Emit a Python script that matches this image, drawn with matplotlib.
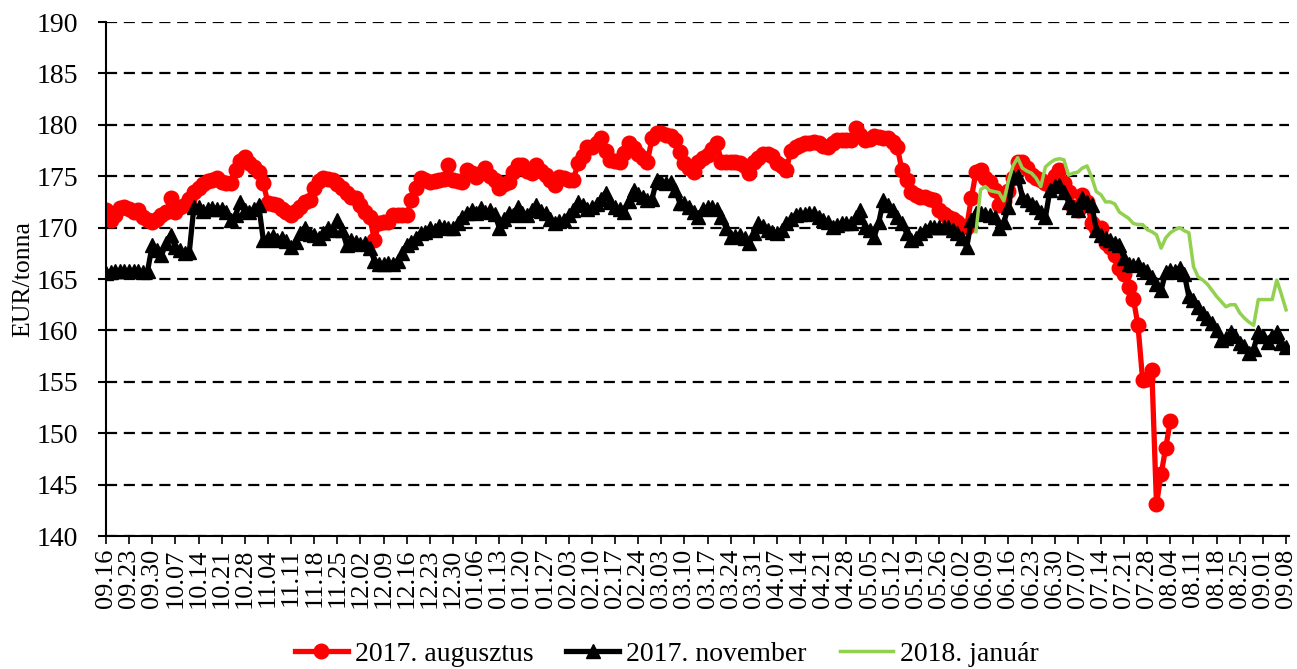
import matplotlib
matplotlib.use('Agg')
import matplotlib.pyplot as plt
import numpy as np
import pandas as pd

# trading days 2016.09.16 - 2017.09.08
dates = pd.bdate_range('2016-09-16', '2017-09-08')
tick_pos = list(range(0, len(dates), 5))
tick_labels = [d.strftime('%m.%d') for d in dates[::5]]

aug_2017 = [
    171.7, 170.7, 171.2, 171.9, 172.0, 171.8, 171.5, 171.7, 171.0, 170.7,
    170.5, 170.8, 171.2, 171.5, 172.9, 171.5, 172.0, 172.2, 172.8, 173.5,
    173.9, 174.2, 174.5, 174.6, 174.8, 174.4, 174.3, 174.3, 175.6, 176.5,
    176.9, 176.3, 175.9, 175.4, 174.3, 172.4, 172.3, 172.2, 171.8, 171.5,
    171.2, 171.6, 172.0, 172.5, 172.7, 173.9, 174.5, 174.8, 174.7, 174.6,
    174.2, 173.9, 173.4, 173.0, 172.9, 172.2, 171.5, 171.0, 168.8, 170.4,
    170.5, 170.5, 171.2, 171.2, 171.2, 171.2, 172.7, 173.9, 174.8, 174.6,
    174.4, 174.5, 174.6, 174.7, 176.1, 174.6, 174.5, 174.4, 175.6, 175.3,
    174.9, 175.3, 175.8, 175.0, 174.6, 173.9, 174.2, 174.4, 175.4, 176.1,
    176.1, 175.5, 175.3, 176.1, 175.5, 175.1, 174.6, 174.1, 174.9, 174.8,
    174.6, 174.6, 176.3, 177.0, 177.8, 177.8, 178.2, 178.7, 177.5, 176.6,
    176.5, 176.4, 177.3, 178.2, 177.7, 177.2, 176.8, 176.4, 178.7, 179.2,
    179.2, 179.0, 178.9, 178.5, 177.4, 176.3, 175.8, 175.4, 176.4, 176.8,
    177.1, 177.6, 178.2, 176.4, 176.4, 176.4, 176.4, 176.3, 176.0, 175.3,
    176.4, 176.8, 177.2, 177.2, 177.0, 176.3, 176.0, 175.6, 177.5, 177.8,
    178.0, 178.2, 178.2, 178.3, 178.2, 177.9, 177.8, 178.2, 178.5, 178.5,
    178.5, 178.5, 179.7, 179.0, 178.5, 178.6, 178.9, 178.8, 178.7, 178.7,
    178.3, 177.8, 175.6, 174.6, 173.5, 173.2, 173.0, 173.0, 172.8, 172.7,
    171.7, 171.3, 171.0, 170.8, 170.5, 170.2, 170.1, 172.9, 175.4, 175.6,
    174.8, 174.4, 173.7, 172.2, 172.6, 173.6, 174.8, 176.4, 176.4, 175.8,
    175.1, 174.8, 174.6, 174.3, 174.1, 175.0, 175.6, 174.3, 173.5, 172.0,
    171.7, 173.2, 172.5, 170.4, 170.0, 170.0, 168.5, 168.1, 167.3, 166.1,
    165.5, 164.2, 163.1, 160.5, 155.2, 155.3, 156.1, 143.1, 146.0, 148.6,
    151.2,
]

nov_2017 = [
    165.6, 165.7, 165.8, 165.8, 165.8, 165.8, 165.8, 165.8, 165.7, 165.8,
    168.3, 167.8, 167.3, 168.5, 169.3, 168.1, 167.8, 167.5, 167.6, 172.0,
    172.0, 171.6, 171.8, 171.9, 171.8, 171.8, 171.5, 170.7, 171.2, 172.5,
    171.7, 171.5, 171.8, 172.2, 168.8, 169.0, 169.2, 168.8, 169.0, 168.7,
    168.1, 168.6, 169.5, 170.0, 169.4, 169.3, 169.0, 169.5, 170.0, 169.8,
    170.7, 169.8, 168.3, 168.8, 168.6, 168.4, 168.5, 168.0, 166.8, 166.5,
    166.5, 166.6, 166.5, 166.8, 167.5, 168.3, 168.6, 169.0, 169.5, 169.6,
    170.0, 169.8, 170.2, 170.1, 170.0, 170.0, 170.4, 171.0, 171.4, 171.7,
    171.4, 171.9, 171.5, 171.7, 171.3, 170.0, 170.8, 171.4, 171.2, 172.0,
    171.4, 171.2, 171.7, 172.2, 171.6, 171.4, 170.8, 170.4, 170.6, 170.7,
    171.2, 171.7, 172.5, 172.2, 171.8, 172.0, 172.3, 172.8, 173.4, 172.5,
    172.0, 171.8, 171.5, 172.6, 173.7, 173.3, 173.0, 172.7, 172.8, 174.6,
    174.4, 174.3, 174.4, 173.7, 172.4, 172.4, 172.0, 171.5, 171.0, 171.8,
    172.0, 172.0, 171.8, 171.0, 170.0, 169.1, 169.2, 169.3, 169.0, 168.5,
    169.5, 170.4, 170.2, 169.8, 169.6, 169.5, 169.8, 170.4, 170.8, 171.2,
    171.3, 171.3, 171.4, 171.4, 171.0, 170.7, 170.5, 170.1, 170.3, 170.4,
    170.4, 170.4, 171.0, 171.7, 170.1, 169.8, 169.1, 170.5, 172.7, 172.2,
    171.7, 171.0, 170.4, 169.5, 168.8, 169.0, 169.5, 169.8, 170.1, 170.1,
    170.1, 170.1, 170.1, 169.8, 169.5, 169.0, 168.1, 170.7, 171.4, 171.4,
    171.3, 171.2, 171.0, 170.0, 170.5, 172.0, 174.9, 175.0, 173.0, 172.7,
    172.3, 172.0, 171.5, 171.0, 173.7, 174.0, 174.1, 173.5, 172.5, 172.0,
    171.7, 172.9, 172.5, 172.2, 169.8, 169.3, 169.0, 168.8, 168.5, 168.3,
    167.0, 166.5, 166.4, 166.5, 166.0, 165.8, 165.2, 164.5, 163.9, 165.7,
    165.9, 165.8, 166.1, 165.5, 163.3, 163.0, 162.3, 161.7, 161.2, 160.7,
    160.0, 159.1, 159.3, 159.8, 159.5, 158.8, 158.5, 157.8, 158.2, 159.8,
    159.5, 158.9, 159.5, 159.8, 158.8, 158.4,
]

jan_2018_start = 188
jan_2018 = [
    169.6, 173.7,
    174.0, 173.6, 173.5, 173.4, 172.6, 174.5, 176.0, 176.8, 175.8, 175.5,
    175.3, 174.8, 174.0, 175.9, 176.3, 176.6, 176.7, 176.6, 175.1, 175.3,
    175.4, 175.8, 176.0, 174.9, 173.5, 173.2, 172.5, 172.5, 172.3, 171.5,
    171.2, 170.9, 170.4, 170.3, 170.3, 169.8, 169.6, 169.3, 168.0, 169.0,
    169.5, 169.8, 170.0, 169.7, 169.5, 166.2, 165.2, 164.9, 164.5, 163.9,
    163.3, 162.8, 162.3, 162.5, 162.5, 161.7, 161.2, 160.8, 160.5, 163.0,
    163.0, 163.0, 163.0, 164.9, 163.5, 162.0,
]

plt.rcParams['font.family'] = ['Liberation Serif', 'DejaVu Serif']

fig = plt.figure(figsize=(12.97, 6.69), dpi=100)
ax = fig.add_axes([0.0817, 0.1988, 0.9120, 0.7683])

x_aug = np.arange(len(aug_2017))
x_nov = np.arange(len(nov_2017))
x_jan = np.arange(jan_2018_start, jan_2018_start + len(jan_2018))

ax.plot(x_aug, aug_2017, color='#FF0000', lw=3.8, marker='o', ms=10.5,
        label='2017. augusztus')
ax.plot(x_nov, nov_2017, color='black', lw=3.8, marker='^', ms=10,
        label='2017. november')
ax.plot(x_jan, jan_2018, color='#92D050', lw=2.5, label='2018. január')

ax.set_ylim(140, 190)
ax.set_yticks(np.arange(140, 191, 5))
ax.set_xlim(0, 255.6)
ax.set_xticks(tick_pos)
ax.set_xticklabels(tick_labels, rotation=90)

ax.yaxis.grid(True, color='black', linestyle=(0, (5, 3)), lw=1.6)
ax.set_axisbelow(True)
for s in ['top', 'right']:
    ax.spines[s].set_visible(False)
ax.spines['left'].set_linewidth(1.5)
ax.spines['bottom'].set_linewidth(1.5)
ax.tick_params(axis='y', labelsize=20, length=6, width=1.5, pad=14)
ax.tick_params(axis='x', labelsize=19, length=6, width=1.2, pad=3)
ax.set_ylabel('EUR/tonna', fontsize=18.5, labelpad=2)

fig.legend(loc='center', bbox_to_anchor=(0.514, 0.022), ncol=3, frameon=False,
           fontsize=20, handlelength=1.9, handletextpad=0.25, columnspacing=1.2)

plt.savefig('out.png', dpi=100)
